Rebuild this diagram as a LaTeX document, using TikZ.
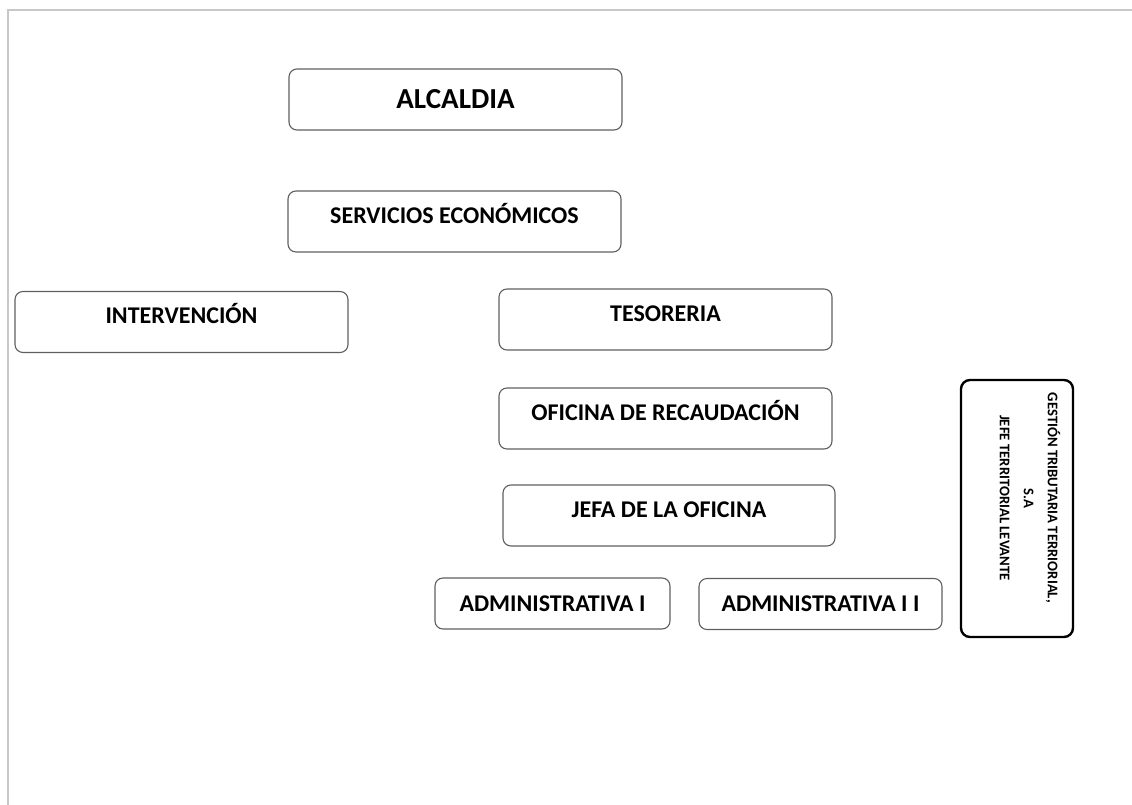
\documentclass[tikz,border=0pt]{standalone}
\usepackage{fontspec}
\setmainfont{Carlito}
\usetikzlibrary{positioning}
\definecolor{boxgray}{RGB}{95,95,95}
\definecolor{framegray}{RGB}{200,200,200}
\tikzstyle{unit} = [rectangle, rounded corners=8pt, draw=boxgray, line width=1.1pt, minimum width=333pt, minimum height=61pt, inner sep=0pt, font=\fontsize{24}{28}\selectfont\bfseries, text height=12pt, text depth=9pt]
\tikzstyle{staff} = [rectangle, rounded corners=8pt, draw=boxgray, line width=1.1pt, minimum height=51pt, inner sep=0pt, font=\fontsize{24}{28}\selectfont\bfseries]
\tikzstyle{extern} = [rectangle, rounded corners=9pt, draw=black, line width=2.4pt, minimum width=112pt, minimum height=257pt, inner sep=0pt]

\begin{document}
\begin{tikzpicture}[x=1pt,y=-1pt]
\useasboundingbox (0,0) rectangle (1132,805);
\draw[framegray, line width=1.5pt] (8,805) -- (8,10) -- (1132,10);
%Top
\node[unit, text height=, text depth=, font=\fontsize{29}{34}\selectfont\bfseries] (alcaldia) at (455.5,99.5) {ALCALDIA};
\node[unit] (servicios) at (454.5,221.5) {SERVICIOS ECONÓMICOS};
%Second level
\node[unit] (intervencion) at (181.5,322) {INTERVENCIÓN};
\node[unit] (tesoreria) at (665.5,319.5) {TESORERIA};
\node[unit] (recaudacion) at (665.5,418.5) {OFICINA DE RECAUDACIÓN};
\node[unit, minimum width=332pt] (jefa) at (669,515.5) {JEFA DE LA OFICINA};
%Staff
\node[staff, minimum width=235pt] (admin1) at (552.5,603.5) {ADMINISTRATIVA I};
\node[staff, minimum width=243pt] (admin2) at (820.5,604) {ADMINISTRATIVA I I};
%External
\node[extern] (gestion) at (1017,508.5) {};
\node[rotate=-90, align=center, font=\fontsize{14.7}{24}\selectfont\bfseries] (gestiontext) at (1030,498) {GESTIÓN TRIBUTARIA TERRIORIAL,\\S.A\\JEFE TERRITORIAL LEVANTE};
\end{tikzpicture}
\end{document}
